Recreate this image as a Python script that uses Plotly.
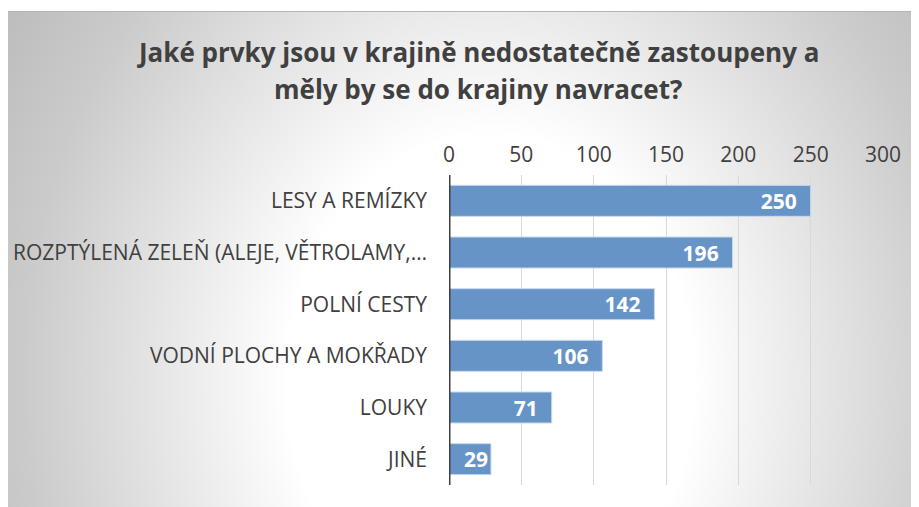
import base64
import plotly.graph_objects as go

categories = [
    "LESY A REMÍZKY",
    "ROZPTÝLENÁ ZELEŇ (ALEJE, VĚTROLAMY,…",
    "POLNÍ CESTY",
    "VODNÍ PLOCHY A MOKŘADY",
    "LOUKY",
    "JINÉ",
]
values = [250, 196, 142, 106, 71, 29]
tick_values = [0, 50, 100, 150, 200, 250, 300]
title_lines = [
    "Jaké prvky jsou v krajině nedostatečně zastoupeny a",
    "měly by se do krajiny navracet?",
]

# the page body adds an 8px offset; coordinates below are figure coordinates
W, H = 919, 507
L, R, T, B = 441, 44, 167, 30
pw, ph = W - L - R, H - T - B

def px_x(p):
    return (p - L) / pw

def px_y(p):
    return (H - B - p) / ph

# radial gradient background
bg_w, bg_h = 911, 496
svg = (
    f'<svg xmlns="http://www.w3.org/2000/svg" width="{bg_w}" height="{bg_h}" viewBox="0 0 {bg_w} {bg_h}">'
    '<defs><radialGradient id="g" gradientUnits="userSpaceOnUse" cx="0" cy="0" r="1.3" '
    'gradientTransform="translate(482 369) scale(465 562)">'
    '<stop offset="0" stop-color="#ffffff"/>'
    '<stop offset="0.335" stop-color="#ffffff"/>'
    '<stop offset="0.77" stop-color="#cbcbcb"/>'
    '<stop offset="1" stop-color="#b8b8b8"/>'
    '</radialGradient></defs>'
    f'<rect x="0" y="0" width="{bg_w}" height="{bg_h}" fill="url(#g)"/>'
    f'<line x1="0" y1="0.5" x2="{bg_w}" y2="0.5" stroke="#b4b4b4" stroke-width="1"/>'
    '</svg>'
)
src = "data:image/svg+xml;base64," + base64.b64encode(svg.encode("utf-8")).decode("ascii")

FONT = "Open Sans"
TXT = "#404040"
NB = "\u00a0"
label_text = [f"{v}{NB * 2}" if v > 50 else f"{v}" for v in values]

fig = go.Figure()
fig.add_trace(go.Bar(
    x=values,
    y=categories,
    orientation="h",
    marker=dict(color="#6794c7", line=dict(color="#c9d8ec", width=1)),
    text=label_text,
    texttemplate="%{text}",
    textposition="inside",
    insidetextanchor="end",
    textangle=0,
    textfont=dict(family=FONT, size=21, color="white", weight="bold"),
    hoverinfo="skip",
))

fig.update_layout(
    width=W, height=H,
    margin=dict(l=L, r=R, t=T, b=B, autoexpand=False),
    paper_bgcolor="white",
    plot_bgcolor="rgba(0,0,0,0)",
    bargap=0.4,
    showlegend=False,
    uniformtext=dict(mode="show", minsize=21),
    font=dict(family=FONT, color=TXT),
    images=[dict(
        source=src, xref="paper", yref="paper",
        x=px_x(0), y=px_y(3), sizex=bg_w / pw, sizey=bg_h / ph,
        xanchor="left", yanchor="top", sizing="stretch", layer="below",
    )],
    xaxis=dict(
        side="top", range=[0, 300], tickvals=tick_values,
        showgrid=True, gridcolor="#d9d9d9", gridwidth=1,
        zeroline=False, showline=False, ticks="",
        tickfont=dict(family=FONT, size=21, color=TXT),
        ticklabelstandoff=8,
        fixedrange=True,
    ),
    yaxis=dict(
        categoryorder="array", categoryarray=categories, autorange="reversed",
        showgrid=False, zeroline=False, showline=False, ticks="",
        tickfont=dict(family=FONT, size=21, color=TXT),
        ticklabelstandoff=21,
        fixedrange=True,
    ),
)

# zero axis line
fig.add_shape(type="line", xref="x", yref="paper", x0=0, x1=0, y0=0, y1=1,
              line=dict(color="#404040", width=3), layer="above")

for line, yc in zip(title_lines, [44, 81]):
    fig.add_annotation(
        text=line, xref="paper", yref="paper",
        x=px_x(470), y=px_y(yc), xanchor="center", yanchor="middle",
        showarrow=False,
        font=dict(family=FONT, size=26, color=TXT, weight="bold"),
    )

fig.write_html("out.html")
